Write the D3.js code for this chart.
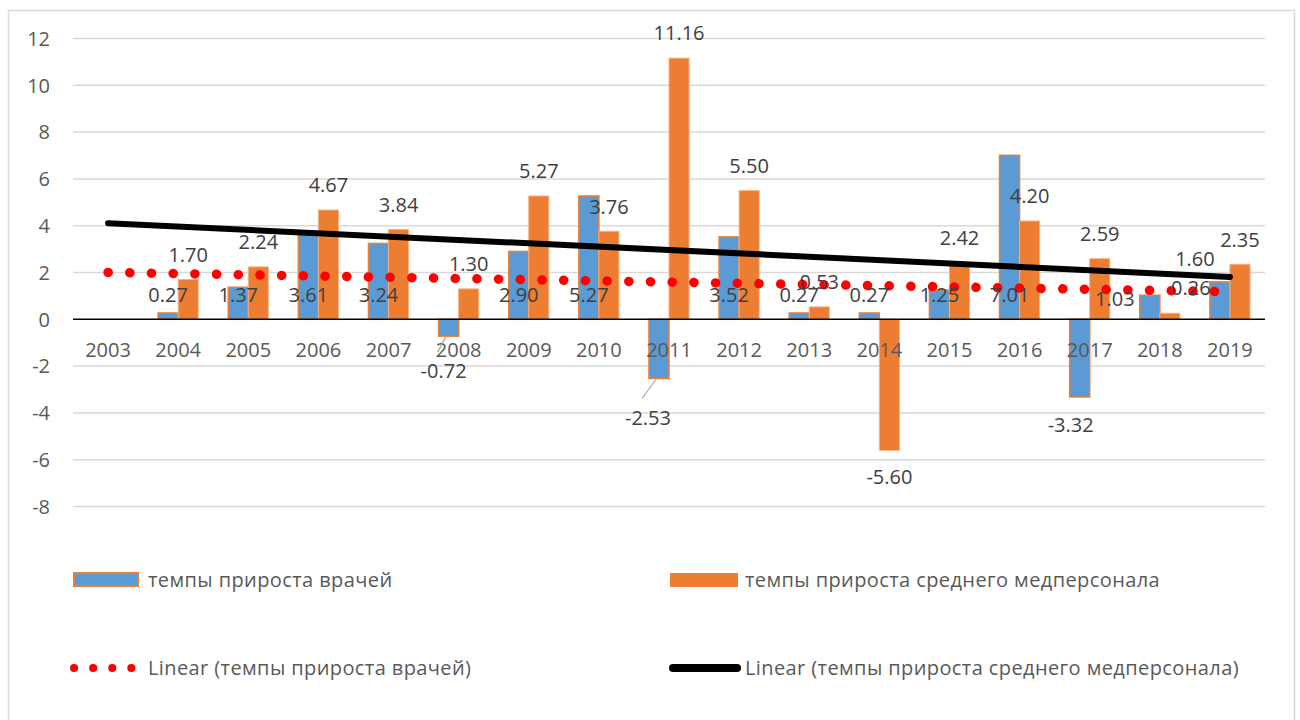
<!DOCTYPE html>
<html>
<head>
<meta charset="utf-8">
<script src="https://cdn.jsdelivr.net/npm/d3@7"></script>
<style>
  body { margin: 0; background: #fff; }
  svg { font-family: "Open Sans", sans-serif; }
</style>
</head>
<body>
<svg id="chart" width="1300" height="720"></svg>
<script>
// data
var years = ['2003','2004','2005','2006','2007','2008','2009','2010','2011',
             '2012','2013','2014','2015','2016','2017','2018','2019'];
var doctors = [null, 0.27, 1.37, 3.61, 3.24, -0.72, 2.90, 5.27, -2.53,
               3.52, 0.27, 0.27, 1.25, 7.01, -3.32, 1.03, 1.60];
var nurses = [null, 1.70, 2.24, 4.67, 3.84, 1.30, 5.27, 3.76, 11.16,
              5.50, 0.53, -5.60, 2.42, 4.20, 2.59, 0.26, 2.35];
var yTicks = [-8, -6, -4, -2, 0, 2, 4, 6, 8, 10, 12];
var seriesNames = ['темпы прироста врачей', 'темпы прироста среднего медперсонала'];

// hand-moved data labels in the original (px offsets)
var docNudge = { '2008': [-5, 10], '2011': [-11, 14], '2017': [-9, 3],
                 '2018': [-35, 4], '2019': [-25, -36] };
var nurseNudge = { '2018': [21, 0] };

var BLUE = '#5b9bd5', ORANGE = '#ed7d31', GRID = '#d9d9d9';

var svg = d3.select('#chart');

// outer chart border
svg.append('rect').attr('x', 8.5).attr('y', 10.5).attr('width', 1286).attr('height', 720)
  .attr('fill', 'none').attr('stroke', GRID).attr('stroke-width', 1.5);

var x = d3.scaleBand().domain(years).range([73, 1265]);
var bw = x.bandwidth();
var xi = d3.scaleBand().domain(['doc', 'nurse']).range([bw * 0.214, bw * 0.786]);
var y = d3.scaleLinear().domain([-8, 12]).range([506.5, 38.5]);

// gridlines
svg.append('g').selectAll('line').data(yTicks.filter(function(t){ return t !== 0; }))
  .enter().append('line')
  .attr('x1', 73).attr('x2', 1265)
  .attr('y1', function(d){ return y(d); }).attr('y2', function(d){ return y(d); })
  .attr('stroke', GRID).attr('stroke-width', 1.5);

// y tick labels
svg.append('g').selectAll('text').data(yTicks).enter().append('text')
  .attr('x', 50).attr('y', function(d){ return y(d); })
  .attr('dy', '0.36em').attr('text-anchor', 'end')
  .attr('font-size', 20).attr('fill', '#595959')
  .text(function(d){ return d; });

// bars
function rows(vals, key) {
  return years.map(function(yr, i){ return { year: yr, v: vals[i], key: key }; })
    .filter(function(d){ return d.v !== null; });
}
var docRows = rows(doctors, 'doc');
var nurseRows = rows(nurses, 'nurse');

function barX(d) { return x(d.year) + xi(d.key); }

svg.append('g').selectAll('rect').data(docRows).enter().append('rect')
  .attr('x', barX).attr('width', xi.bandwidth())
  .attr('y', function(d){ return y(Math.max(0, d.v)); })
  .attr('height', function(d){ return Math.abs(y(d.v) - y(0)); })
  .attr('fill', BLUE).attr('stroke', ORANGE).attr('stroke-width', 1.5);

svg.append('g').selectAll('rect').data(nurseRows).enter().append('rect')
  .attr('x', barX).attr('width', xi.bandwidth())
  .attr('y', function(d){ return y(Math.max(0, d.v)); })
  .attr('height', function(d){ return Math.abs(y(d.v) - y(0)); })
  .attr('fill', ORANGE).attr('stroke', '#f4b183').attr('stroke-width', 1);

// zero axis
svg.append('line').attr('x1', 73).attr('x2', 1265)
  .attr('y1', y(0)).attr('y2', y(0)).attr('stroke', '#000').attr('stroke-width', 1.5);

// category labels (drawn over bars like the original)
svg.append('g').selectAll('text').data(years).enter().append('text')
  .attr('x', function(d){ return x(d) + bw / 2; }).attr('y', 350)
  .attr('dy', '0.36em').attr('text-anchor', 'middle')
  .attr('font-size', 20).attr('fill', '#595959')
  .text(function(d){ return d; });

// linear trend (least squares over the years that have a value)
function trend(vals) {
  var pts = vals.map(function(v, i){ return [i + 1, v]; }).filter(function(p){ return p[1] !== null; });
  var mx = d3.mean(pts, function(p){ return p[0]; });
  var my = d3.mean(pts, function(p){ return p[1]; });
  var sxy = d3.sum(pts, function(p){ return (p[0] - mx) * (p[1] - my); });
  var sxx = d3.sum(pts, function(p){ return (p[0] - mx) * (p[0] - mx); });
  var b = sxy / sxx, a = my - b * mx;
  return [1, years.length].map(function(i){ return { year: years[i - 1], v: a + b * i }; });
}
var line = d3.line()
  .x(function(d){ return x(d.year) + bw / 2; })
  .y(function(d){ return y(d.v); });

svg.append('path').datum(trend(doctors)).attr('d', line)
  .attr('fill', 'none').attr('stroke', '#ff0000').attr('stroke-width', 9.5)
  .attr('stroke-linecap', 'round').attr('stroke-dasharray', '0.1 21.6');

svg.append('path').datum(trend(nurses)).attr('d', line)
  .attr('fill', 'none').attr('stroke', '#000').attr('stroke-width', 6)
  .attr('stroke-linecap', 'round');

// data labels
function fmt(v) { return v.toFixed(2); }

var docLab = docRows.map(function(d){
  var n = docNudge[d.year] || [0, 0];
  var cx = barX(d) + xi.bandwidth() / 2;
  var ly = d.v >= 0 ? y(0) - 25 : y(d.v) + 25;
  return { d: d, bx: cx, by: y(d.v), lx: cx + n[0], ly: ly + n[1] };
});
var nurseLab = nurseRows.map(function(d){
  var n = nurseNudge[d.year] || [0, 0];
  var cx = barX(d) + xi.bandwidth() / 2;
  var ly = d.v >= 0 ? y(d.v) - 25 : y(d.v) + 26;
  return { d: d, bx: cx, by: y(d.v), lx: cx + n[0], ly: ly + n[1] };
});

// leader lines for the labels dragged far from their bars
svg.append('g').selectAll('line')
  .data(docLab.filter(function(l){ return l.d.v < 0 && l.ly - l.by > 33; }))
  .enter().append('line')
  .attr('x1', function(l){ return l.bx - 3; }).attr('y1', function(l){ return l.by + 1; })
  .attr('x2', function(l){ return l.lx - 6; }).attr('y2', function(l){ return l.ly - 19; })
  .attr('stroke', '#a6a6a6').attr('stroke-width', 1.2);

svg.append('g').selectAll('text').data(docLab.concat(nurseLab)).enter().append('text')
  .attr('x', function(l){ return l.lx; }).attr('y', function(l){ return l.ly; })
  .attr('dy', '0.36em').attr('text-anchor', 'middle')
  .attr('font-size', 20).attr('fill', '#404040')
  .text(function(l){ return fmt(l.d.v); });

// legend
var leg = svg.append('g').attr('font-size', 20).attr('fill', '#595959')
  .attr('letter-spacing', 0.4);
leg.append('rect').attr('x', 74).attr('y', 573).attr('width', 64).attr('height', 13)
  .attr('fill', BLUE).attr('stroke', ORANGE).attr('stroke-width', 2);
leg.append('text').attr('x', 148).attr('y', 580).attr('dy', '0.36em').text(seriesNames[0]);
leg.append('rect').attr('x', 670).attr('y', 573).attr('width', 68).attr('height', 14)
  .attr('fill', ORANGE);
leg.append('text').attr('x', 745).attr('y', 580).attr('dy', '0.36em').text(seriesNames[1]);

leg.append('line').attr('x1', 74).attr('x2', 132).attr('y1', 668).attr('y2', 668)
  .attr('stroke', '#ff0000').attr('stroke-width', 8).attr('stroke-linecap', 'round')
  .attr('stroke-dasharray', '0.1 19');
leg.append('text').attr('x', 148).attr('y', 668).attr('dy', '0.36em')
  .text('Linear (' + seriesNames[0] + ')');
leg.append('line').attr('x1', 673).attr('x2', 737).attr('y1', 668).attr('y2', 668)
  .attr('stroke', '#000').attr('stroke-width', 8).attr('stroke-linecap', 'round');
leg.append('text').attr('x', 745).attr('y', 668).attr('dy', '0.36em')
  .text('Linear (' + seriesNames[1] + ')');
</script>
</body>
</html>
